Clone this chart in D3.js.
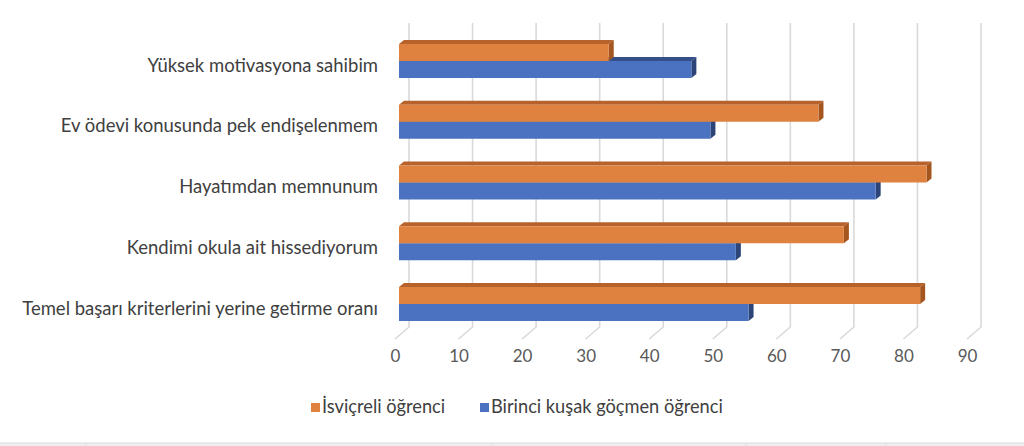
<!DOCTYPE html>
<html><head><meta charset="utf-8">
<script src="https://cdn.jsdelivr.net/npm/d3@7"></script>
<style>html,body{margin:0;padding:0;background:#fff;}svg{display:block;}</style>
</head><body>
<script>
const categories = [
  "Yüksek motivasyona sahibim",
  "Ev ödevi konusunda pek endişelenmem",
  "Hayatımdan memnunum",
  "Kendimi okula ait hissediyorum",
  "Temel başarı kriterlerini yerine getirme oranı"
];
const seriesNames = ["İsviçreli öğrenci", "Birinci kuşak göçmen öğrenci"];
const swiss = [33, 66, 83, 70, 82];
const migrant = [46, 49, 75, 53, 55];
const tickValues = [0, 10, 20, 30, 40, 50, 60, 70, 80, 90];

const W = 1024, H = 446;
const svg = d3.select("body").append("svg").attr("width", W).attr("height", H);
const font = "Lato, 'Open Sans', sans-serif";

// 3D geometry
const depthX = 5, depthY = 4;         // bar depth
const wallDX = 10, floorDX = -14, floorDY = 12; // wall offset from bar face, floor slant
const x = d3.scaleLinear().domain([0, 90]).range([399, 971]);
const y = d3.scalePoint().domain(categories).range([61, 304]);
const sub = d3.scaleBand().domain(seriesNames).range([-17, 17]);

const wallTop = 23, wallBottom = 327;
const grid = svg.append("g").attr("stroke", "#d9d9d9").attr("stroke-width", 1.6).attr("fill", "none");
tickValues.forEach(t => {
  const xb = x(t) + wallDX;
  grid.append("path").attr("d", `M${xb},${wallTop}V${wallBottom}L${xb + floorDX},${wallBottom + floorDY}`);
});

const colors = {
  "İsviçreli öğrenci": {front: "#E0823F", top: "#B8622B", side: "#A5561F"},
  "Birinci kuşak göçmen öğrenci": {front: "#4A72C1", top: "#344F8A", side: "#2C4478"}
};

const data = categories.map((c, i) => ({cat: c, vals: [
  {s: seriesNames[0], v: swiss[i]}, {s: seriesNames[1], v: migrant[i]}]}));

const bars = svg.append("g");
// draw blue (lower) first, then orange so orange covers blue top face
[1, 0].forEach(si => {
  data.forEach(d => {
    const it = d.vals[si];
    const col = colors[it.s];
    const x0 = x(0), x1 = x(it.v);
    const yt = y(d.cat) + sub(it.s), h = sub.bandwidth();
    bars.append("path").attr("fill", col.top)
      .attr("d", `M${x0},${yt}L${x0 + depthX},${yt - depthY}L${x1 + depthX},${yt - depthY}L${x1},${yt}Z`);
    bars.append("path").attr("fill", col.side)
      .attr("d", `M${x1},${yt}L${x1 + depthX},${yt - depthY}L${x1 + depthX},${yt + h - depthY}L${x1},${yt + h}Z`);
    bars.append("rect").attr("x", x0).attr("y", yt).attr("width", x1 - x0).attr("height", h).attr("fill", col.front);
  });
});

// category labels
const labels = svg.append("g").attr("font-family", font).attr("fill", "#404040");
labels.selectAll("text").data(categories).join("text")
  .attr("x", 378).attr("y", d => y(d) + 6).attr("text-anchor", "end")
  .attr("dominant-baseline", "middle").attr("font-size", 16).text(d => d);
// fit width of longest label to the reference (~356px)
let maxW = 0;
labels.selectAll("text").each(function(){ maxW = Math.max(maxW, this.getComputedTextLength()); });
labels.selectAll("text").attr("font-size", 16 * 356 / maxW);

// value axis (front edge of floor)
const xFront = d3.scaleLinear().domain([0, 90]).range([x(0) + wallDX + floorDX, x(90) + wallDX + floorDX]);
const ax = svg.append("g").attr("transform", `translate(0,${350})`)
  .call(d3.axisBottom(xFront).tickValues(tickValues).tickSize(0).tickPadding(0));
ax.select(".domain").remove();
ax.selectAll("text").attr("font-family", font).attr("font-size", 17).attr("fill", "#595959")
  .attr("dy", "0.71em");

// legend
const leg = svg.append("g").attr("font-family", font).attr("font-size", 16).attr("fill", "#404040");
const legX = [311, 480];
seriesNames.forEach((s, i) => {
  leg.append("rect").attr("x", legX[i]).attr("y", 403).attr("width", 9).attr("height", 9).attr("fill", colors[s].front);
  leg.append("text").attr("x", legX[i] + 11).attr("y", 408).attr("dominant-baseline", "middle").text(s);
});
let lw = 0; leg.selectAll("text").filter((d,i)=>i===1).each(function(){ lw = this.getComputedTextLength(); });
leg.selectAll("text").attr("font-size", 16 * 232 / lw);

// bottom frame line
const bf = svg.append("g").attr("stroke", "#dcdcdc");
bf.append("rect").attr("x", 0).attr("y", 443).attr("width", W).attr("height", 3).attr("fill", "#eeeeee").attr("stroke", "none");
bf.append("line").attr("x1", 0).attr("x2", W).attr("y1", 443).attr("y2", 443);
[86, 492, 746, 886].forEach(v => bf.append("line").attr("x1", v).attr("x2", v).attr("y1", 443).attr("y2", 446));
</script>
</body></html>
